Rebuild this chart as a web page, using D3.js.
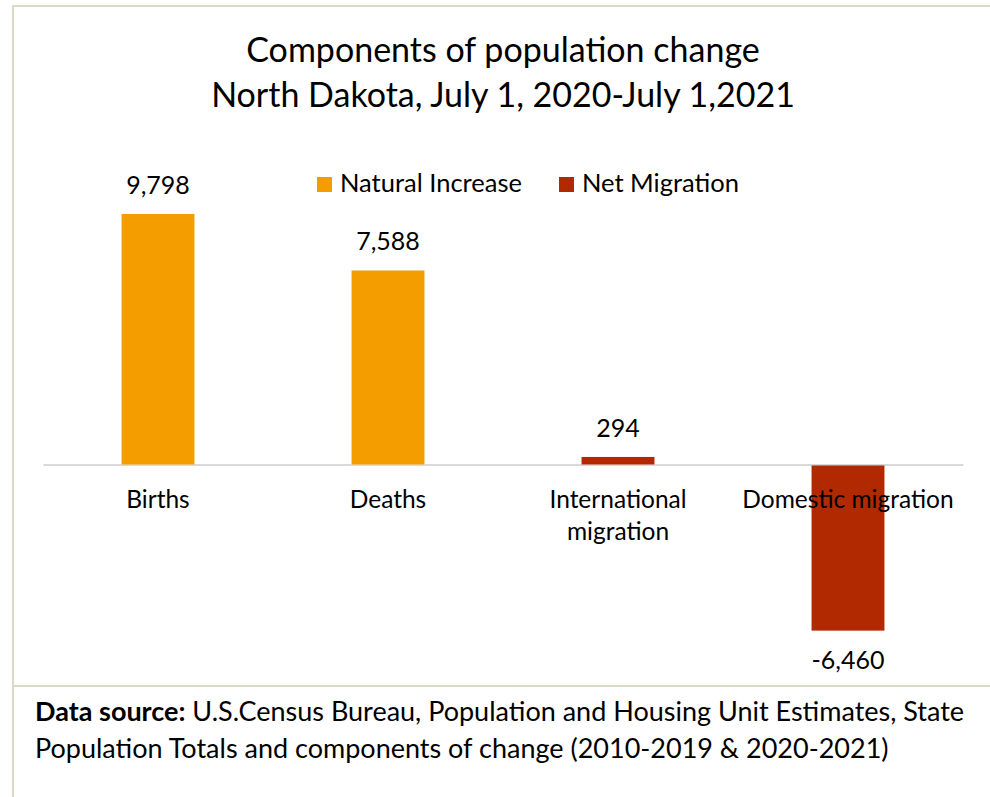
<!DOCTYPE html>
<html>
<head>
<meta charset="utf-8">
<script src="https://cdn.jsdelivr.net/npm/d3@7"></script>
<style>
  html, body { margin: 0; padding: 0; background: #fff; }
  svg { display: block; }
  text { font-family: Lato, "Noto Sans", sans-serif; fill: #000; }
</style>
</head>
<body>
<svg id="chart" width="990" height="797"></svg>
<script>
const titleLines = ["Components of population change", "North Dakota, July 1, 2020-July 1,2021"];
const categories = ["Births", "Deaths", "International migration", "Domestic migration"];
const categoryLines = [["Births"], ["Deaths"], ["International", "migration"], ["Domestic migration"]];
const values = [9798, 7588, 294, -6460];
const seriesOf = ["Natural Increase", "Natural Increase", "Net Migration", "Net Migration"];
const seriesNames = ["Natural Increase", "Net Migration"];
const seriesColors = ["#F49D00", "#B12900"];
const sourceBold = "Data source:";
const sourceLines = [" U.S.Census Bureau, Population and Housing Unit Estimates, State",
                     "Population Totals and components of change (2010-2019 & 2020-2021)"];

const svg = d3.select("#chart");
const frameColor = "#DDD9C3";

// frame
svg.append("line").attr("x1", 12).attr("x2", 990).attr("y1", 6).attr("y2", 6)
  .attr("stroke", frameColor).attr("stroke-width", 2);
svg.append("line").attr("x1", 13).attr("x2", 13).attr("y1", 5).attr("y2", 797)
  .attr("stroke", frameColor).attr("stroke-width", 2);
svg.append("line").attr("x1", 13).attr("x2", 990).attr("y1", 686).attr("y2", 686)
  .attr("stroke", frameColor).attr("stroke-width", 2);

// title
svg.append("g").selectAll("text").data(titleLines).join("text")
  .attr("x", 503).attr("y", (d, i) => 62 + i * 45)
  .attr("text-anchor", "middle").attr("font-size", 34).text(d => d);

// scales
const x = d3.scaleBand().domain(categories).range([43, 963])
  .paddingInner(0.683).paddingOuter(0.3415);
const y = d3.scaleLinear().domain([-8000, 10000]).range([669.0, 208.8]);
const color = d3.scaleOrdinal().domain(seriesNames).range(seriesColors);

// baseline axis
const axisG = svg.append("g").attr("transform", `translate(0,${y(0)})`)
  .call(d3.axisBottom(x).tickSize(0).tickFormat(""));
axisG.select(".domain").attr("stroke", "#D9D9D9").attr("stroke-width", 2);

// bars
svg.append("g").selectAll("rect").data(categories).join("rect")
  .attr("x", d => x(d))
  .attr("width", x.bandwidth())
  .attr("y", (d, i) => Math.min(y(values[i]), y(0) + 1))
  .attr("height", (d, i) => Math.abs(y(values[i]) - y(0)))
  .attr("fill", (d, i) => color(seriesOf[i]));

// category labels
const catG = svg.append("g");
categories.forEach((c, i) => {
  catG.append("text")
    .attr("x", x(c) + x.bandwidth() / 2)
    .attr("y", 508)
    .attr("text-anchor", "middle")
    .attr("font-size", 24.5)
    .selectAll("tspan").data(categoryLines[i]).join("tspan")
    .attr("x", x(c) + x.bandwidth() / 2)
    .attr("dy", (d, j) => j === 0 ? 0 : 32)
    .text(d => d);
});

// value labels
const fmt = d3.format(",");
svg.append("g").selectAll("text").data(categories).join("text")
  .attr("x", d => x(d) + x.bandwidth() / 2)
  .attr("y", (d, i) => values[i] >= 0 ? y(values[i]) - 20 : y(values[i]) + 39)
  .attr("text-anchor", "middle").attr("font-size", 25)
  .text((d, i) => fmt(values[i]).replace("−", "-"));

// legend
const legendX = [317, 559];
const lg = svg.append("g").selectAll("g").data(seriesNames).join("g")
  .attr("transform", (d, i) => `translate(${legendX[i]},177)`);
lg.append("rect").attr("width", 15).attr("height", 15).attr("fill", d => color(d));
lg.append("text").attr("x", 23).attr("y", 15).attr("font-size", 25.5).text(d => d);

// footer
const f = svg.append("g");
const t1 = f.append("text").attr("x", 35).attr("y", 721).attr("font-size", 27);
t1.append("tspan").attr("font-weight", "bold").text(sourceBold);
t1.append("tspan").text(sourceLines[0]);
f.append("text").attr("x", 35).attr("y", 758).attr("font-size", 27).text(sourceLines[1]);
</script>
</body>
</html>
